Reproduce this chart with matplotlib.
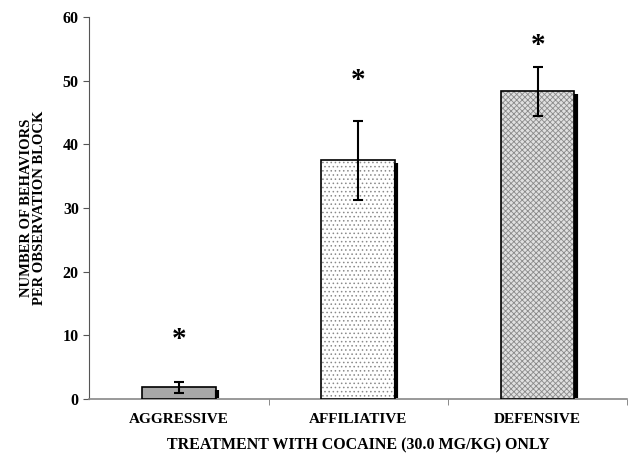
import matplotlib.pyplot as plt
import numpy as np

# === Data ===
categories = ["AGGRESSIVE", "AFFILIATIVE", "DEFENSIVE"]
means = [1.8, 37.5, 48.3]
errors = [0.85, 6.2, 3.8]
star_y = [9.3, 50.0, 55.5]

# === Style ===
plt.rcParams["font.family"] = ["Liberation Serif", "DejaVu Serif"]
plt.rcParams["font.weight"] = "bold"
plt.rcParams["hatch.linewidth"] = 0.6

fig = plt.figure(figsize=(6.28, 4.57), dpi=100)
ax = fig.add_axes([0.142, 0.127, 0.857, 0.836])

x = np.arange(len(categories))
fills = ["#a8a8a8", "white", "#e0e0e0"]
hatches = [None, "....", "xxxxxx"]
hatch_cols = ["black", "#8a8a8a", "#8a8a8a"]

bars = ax.bar(x, means, width=0.41, color=fills, edgecolor="black",
              linewidth=1.2, zorder=3)
for b, h, hc in zip(bars, hatches, hatch_cols):
    if h:
        b.set_hatch(h)
        b._hatch_color = plt.matplotlib.colors.to_rgba(hc)

# drop shadow on right edge
for b in bars:
    x1 = b.get_x() + b.get_width()
    h = b.get_height()
    ax.plot([x1 + 0.006, x1 + 0.006], [0.2, h - 0.4], color="black", lw=3.0,
            solid_capstyle="butt", zorder=4, clip_on=False)

ax.errorbar(x, means, yerr=errors, fmt="none", ecolor="black", elinewidth=1.5,
            capsize=3.5, capthick=1.5, zorder=5)

for xi, sy in zip(x, star_y):
    ax.text(xi, sy, "*", ha="center", va="center", fontsize=21, fontweight="bold")

ax.set_xlim(-0.5, 2.5)
ax.set_ylim(0, 60)
ax.set_yticks(range(0, 61, 10))
ax.set_xticks(x)
ax.set_xticklabels(categories)
ax.set_xticks([0.5, 1.5, 2.5], minor=True)
ax.tick_params(axis="x", which="major", length=0, pad=10, labelsize=11)
ax.tick_params(axis="x", which="minor", length=4, direction="out", color="#777777")
ax.tick_params(axis="y", length=4, direction="out", labelsize=11.5, color="#555555")

for s in ["top", "right"]:
    ax.spines[s].set_visible(False)
ax.spines["left"].set_color("#555555")
ax.spines["bottom"].set_color("#888888")
ax.spines["bottom"].set_linewidth(1.2)

ax.set_xlabel("TREATMENT WITH COCAINE (30.0 MG/KG) ONLY", fontsize=11.5,
              fontweight="bold", labelpad=8)
ax.set_ylabel("NUMBER OF BEHAVIORS\nPER OBSERVATION BLOCK", fontsize=10.5,
              fontweight="bold", labelpad=12, linespacing=1.0)

fig.savefig("out.png", dpi=100)
